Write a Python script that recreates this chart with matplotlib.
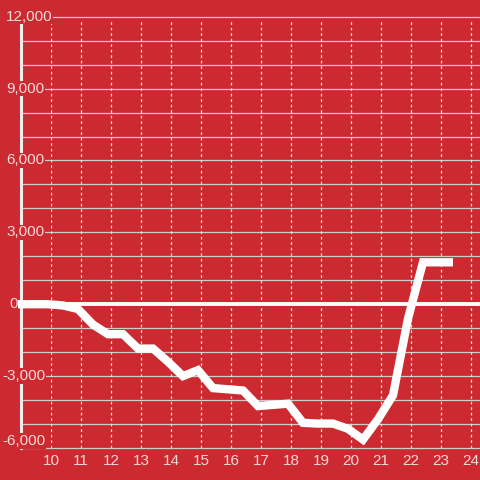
import matplotlib
matplotlib.use("Agg")
import matplotlib.pyplot as plt

plt.rcParams['font.family'] = ['Liberation Sans', 'DejaVu Sans']

# hours of the day and running total
hours = [8.9, 9.4, 9.9, 10.4, 10.9, 11.4, 11.9, 12.4, 12.9, 13.4,
         13.9, 14.4, 14.9, 15.4, 15.9, 16.4, 16.9, 17.4, 17.9, 18.4,
         18.9, 19.4, 19.9, 20.4, 20.9, 21.4, 21.9, 22.4, 22.9, 23.4]
values = [0, 0, 0, -50, -200, -850, -1250, -1250, -1850, -1850,
          -2400, -3000, -2750, -3500, -3550, -3600, -4250, -4200, -4150, -4950,
          -4980, -4980, -5200, -5650, -4800, -3800, -600, 1750, 1750, 1750]

x_ticks = list(range(10, 25))
y_ticks = [-6000, -3000, 0, 3000, 6000, 9000, 12000]
y_grid = list(range(-6000, 12001, 1000))

bg = '#cc2a30'
txt = '#f2dada'
grid = '#cdcdcd'

W = 480
fig = plt.figure(figsize=(4.8, 4.8), dpi=100, facecolor=bg)
ax = fig.add_axes([51 / W, 32 / W, (W - 51) / W, (448 - 16.7) / W])
ax.set_facecolor(bg)
xmax = 10 + (W - 51) / 30
ax.set_xlim(10, xmax)
ax.set_ylim(-6000, 12000)
for s in ax.spines.values():
    s.set_visible(False)

# grid
ax.hlines(y_grid, 9, xmax, color=grid, lw=0.9, zorder=1, clip_on=False)
ax.vlines(x_ticks, -6000, 11800, color='#e4e4e4', lw=0.9,
          linestyles=(0, (2.2, 2.2)), zorder=1)

# y axis line and zero line
ax.plot([9, 9], [-6000, 12000], color='#eeeeee', lw=2.2, clip_on=False, zorder=2)
ax.plot([8.87, xmax], [0, 0], color='white', lw=2.8, clip_on=False, zorder=3)

ax.plot(hours, values, color='white', lw=6, solid_joinstyle='miter',
        solid_capstyle='butt', clip_on=False, zorder=4)

ax.set_xticks(x_ticks)
ax.set_xticklabels([str(v) for v in x_ticks])
ax.set_yticks([])
ax.tick_params(axis='x', length=0, pad=4, labelsize=11, labelcolor=txt)

# left edge of each y label, in pixels from the axis line
for v in y_ticks:
    dx = -12 if v == 0 else (-19 if v < 0 else -15)
    dy = 7 if v == -6000 else 0
    ax.annotate(f'{v:,}', (9, v), xytext=(dx * 0.72, dy * 0.72),
                textcoords='offset points', ha='left', va='center',
                fontsize=11, color=txt, zorder=5, annotation_clip=False,
                bbox=dict(boxstyle='square,pad=0.05', fc=bg, ec='none'))

fig.savefig('out.png', dpi=100, facecolor=bg)
